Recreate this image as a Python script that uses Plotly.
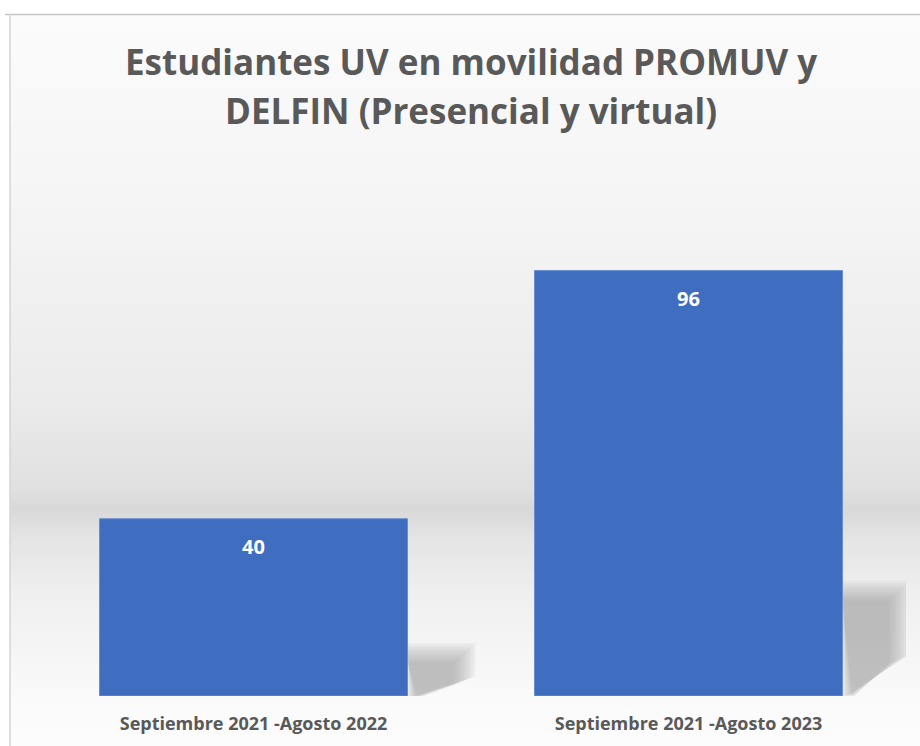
import plotly.graph_objects as go

# ---- data ----
categories = ["Septiembre 2021 -Agosto 2022", "Septiembre 2021 -Agosto 2023"]
values = [40, 96]
title_lines = ["Estudiantes UV en movilidad PROMUV y", "DELFIN (Presencial y virtual)"]

# ---- layout constants ----
W, H = 920, 746
M_L, M_R, M_T, M_B = 36, 14, 142, 50
Y_MAX = 125
BAR_W = 0.708
BAR_COLOR = "#3F6EC0"
TEXT_GRAY = "#595959"
FONT = "Open Sans"

plot_h = H - M_T - M_B


def py_to_paper(py):
    return (H - M_B - py) / plot_h


def px_to_paper(px):
    return (px - M_L) / (W - M_L - M_R)


x_idx = list(range(len(categories)))

fig = go.Figure()
fig.add_trace(go.Bar(
    x=x_idx, y=values, width=BAR_W,
    marker=dict(color=BAR_COLOR, line=dict(color="#6a8fd0", width=1)),
    hoverinfo="skip",
))

shapes = []
# background gradient (vertical), drawn as thin bands
stops = [(14, (251, 251, 251)), (200, (245, 245, 245)), (400, (235, 235, 235)),
         (490, (224, 224, 224)), (508, (216, 216, 216)), (540, (229, 229, 229)),
         (600, (240, 240, 240)), (700, (250, 250, 250)), (746, (252, 252, 252))]


def color_at(y):
    for (y0, c0), (y1, c1) in zip(stops[:-1], stops[1:]):
        if y0 <= y <= y1:
            t = (y - y0) / (y1 - y0)
            return tuple(int(round(a + (b - a) * t)) for a, b in zip(c0, c1))
    return stops[-1][1]


step = 4
y = 14
while y < H:
    c = color_at(y + step / 2)
    shapes.append(dict(type="rect", xref="paper", yref="paper", layer="below",
                       x0=px_to_paper(10), x1=px_to_paper(W),
                       y0=py_to_paper(y + step + 0.5), y1=py_to_paper(y),
                       fillcolor="rgb(%d,%d,%d)" % c, line=dict(width=0)))
    y += step

# frame border lines
shapes.append(dict(type="line", xref="paper", yref="paper", layer="below",
                   x0=px_to_paper(5), x1=px_to_paper(W), y0=py_to_paper(14.5), y1=py_to_paper(14.5),
                   line=dict(color="#c4c4c4", width=1.5)))
shapes.append(dict(type="line", xref="paper", yref="paper", layer="below",
                   x0=px_to_paper(10), x1=px_to_paper(10), y0=py_to_paper(14), y1=py_to_paper(H),
                   line=dict(color="#d4d4d4", width=1.5)))

# soft perspective shadows behind bars (derived from bar data)
n_layers = 10
for i, v in zip(x_idx, values):
    xr = i + BAR_W / 2
    for k in range(n_layers):
        g = 0.022 - 0.05 * k / (n_layers - 1)   # from enlarged to shrunk
        top = 0.25 * v + g * 90
        dx = 0.135 + g
        mid = 0.09 * v + g * 40
        path = "M %f,%f L %f,%f L %f,%f L %f,%f Z" % (
            xr, top, xr + dx, top, xr + dx, mid, xr + 0.01 - g * 0.5, -0.5)
        shapes.append(dict(type="path", xref="x", yref="y", layer="below", path=path,
                           fillcolor="rgba(140,140,140,0.07)", line=dict(width=0)))

annotations = []
# data labels
for i, v in zip(x_idx, values):
    annotations.append(dict(x=i, y=v, xref="x", yref="y", text=str(v), showarrow=False,
                            yshift=-28, font=dict(family=FONT, size=20, color="white", weight="bold")))

# title lines
for j, line in enumerate(title_lines):
    annotations.append(dict(x=0.5, xref="paper", yref="paper", y=py_to_paper(62 + 48 * j),
                            yanchor="middle", text=line, showarrow=False,
                            font=dict(family=FONT, size=35, color=TEXT_GRAY, weight="bold")))

fig.update_layout(
    width=W, height=H,
    margin=dict(l=M_L, r=M_R, t=M_T, b=M_B),
    paper_bgcolor="white", plot_bgcolor="rgba(0,0,0,0)",
    showlegend=False,
    shapes=shapes, annotations=annotations,
    xaxis=dict(range=[-0.5, 1.5], tickvals=x_idx, ticktext=categories,
               showgrid=False, zeroline=False, showline=False, ticks="",
               tickfont=dict(family=FONT, size=18, color=TEXT_GRAY, weight="bold"),
               ticklabelstandoff=15, fixedrange=True),
    yaxis=dict(range=[0, Y_MAX], visible=False, fixedrange=True),
)

fig.write_html("out.html", config={"displayModeBar": False})
